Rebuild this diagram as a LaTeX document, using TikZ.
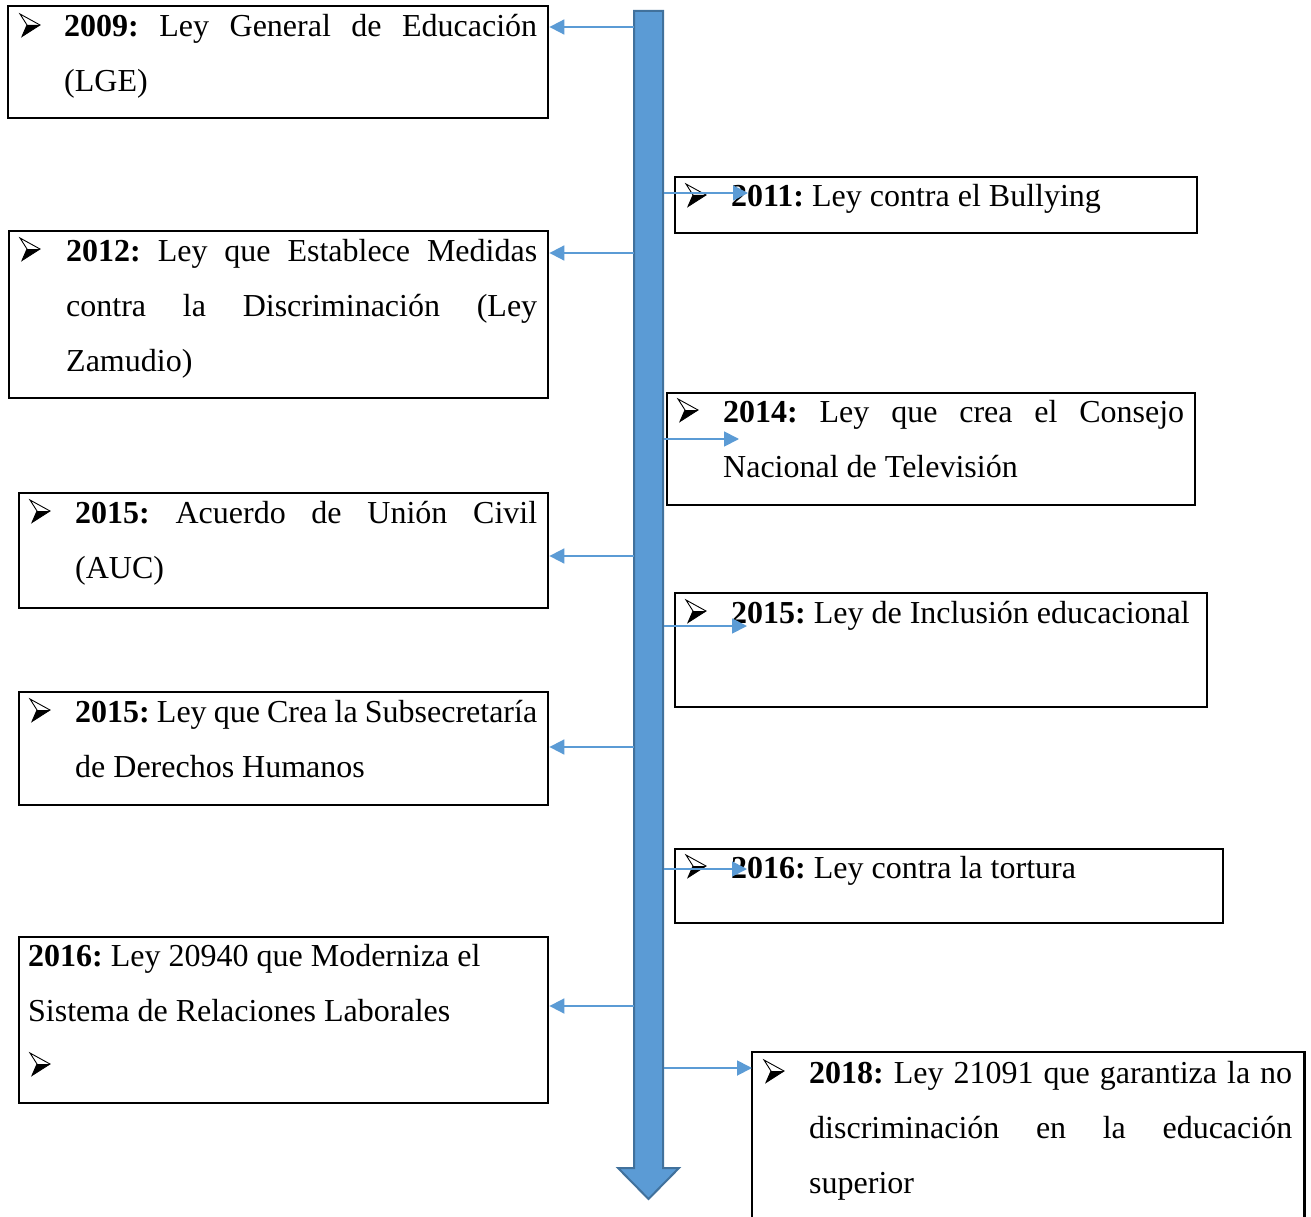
\documentclass[tikz,border=0pt]{standalone}
\usepackage{fontspec}
\setmainfont{Liberation Serif}
\usetikzlibrary{arrows.meta}
\definecolor{tlblue}{HTML}{5B9BD5}
\definecolor{tlborder}{HTML}{41719C}
\frenchspacing
\begin{document}
\begin{tikzpicture}[x=1pt,y=-1pt,
  lawbox/.style={draw=black,line width=2.4pt,anchor=north west,inner sep=0pt},
  txt/.style={anchor=base west,inner sep=0pt,font=\fontsize{32}{55}\selectfont\frenchspacing},
  conn/.style={draw=tlblue,line width=1.8pt,-{Triangle[length=15pt,width=15pt]}},
  bigarrow/.style={fill=tlblue,draw=tlborder,line width=2pt},
  bulletmark/.pic={
    \fill[black] (7,-12) -- (20,-12) -- (2,-0.5) -- cycle;
    \draw[black,line width=0.9pt,line join=miter] (0,-23) -- (20,-12) -- (2,-0.5) -- (7,-12) -- cycle;
  }
]
\useasboundingbox (0,0) rectangle (1311,1217);
\fill[white] (0,0) rectangle (1311,1217);

% timeline arrow
\path[bigarrow] (634,11) -- (663,11) -- (663,1168) -- (679,1168) -- (648.5,1199) -- (618,1168) -- (634,1168) -- cycle;

% boxes
\node[lawbox,minimum width=540pt,minimum height=112pt] (b2009) at (7,5) {};
\node[lawbox,minimum width=522pt,minimum height=56pt] (b2011) at (674,176) {};
\node[lawbox,minimum width=539pt,minimum height=167pt] (b2012) at (8,230) {};
\node[lawbox,minimum width=528pt,minimum height=112pt] (b2014) at (666,392) {};
\node[lawbox,minimum width=529pt,minimum height=115pt] (bauc) at (18,492) {};
\node[lawbox,minimum width=532pt,minimum height=114pt] (bincl) at (674,592) {};
\node[lawbox,minimum width=529pt,minimum height=113pt] (bsub) at (18,691) {};
\node[lawbox,minimum width=548pt,minimum height=74pt] (btort) at (674,848) {};
\node[lawbox,minimum width=529pt,minimum height=166pt] (blab) at (18,936) {};
\node[lawbox,draw=none,minimum width=550pt,minimum height=170pt] (b2018) at (752,1052) {};
\draw[black,line width=2.4pt] (b2018.south west) -- (b2018.north west) -- (b2018.north east) -- (b2018.south east);

% texts
\pic (u2009) at (20,37) {bulletmark};
\node[txt] (t2009a) at (64,37) {\makebox[473pt][s]{\textbf{2009:} Ley General de Educación}};
\node[txt] (t2009b) at (64,92) {(LGE)};

\pic (u2011) at (686,207) {bulletmark};
\node[txt] (t2011) at (731,207) {\textbf{2011:} Ley contra el Bullying};

\pic (u2012) at (20,261) {bulletmark};
\node[txt] (t2012a) at (66,261) {\makebox[471pt][s]{\textbf{2012:} Ley que Establece Medidas}};
\node[txt] (t2012b) at (66,316) {\makebox[471pt][s]{contra la Discriminación (Ley}};
\node[txt] (t2012c) at (66,371) {Zamudio)};

\pic (u2014) at (678,422) {bulletmark};
\node[txt] (t2014a) at (723,422) {\makebox[461pt][s]{\textbf{2014:} Ley que crea el Consejo}};
\node[txt] (t2014b) at (723,477) {Nacional de Televisión};

\pic (uauc) at (30,523) {bulletmark};
\node[txt] (tauca) at (75,523) {\makebox[462pt][s]{\textbf{2015:} Acuerdo de Unión Civil}};
\node[txt] (taucb) at (75,578) {(AUC)};

\pic (uincl) at (686,623) {bulletmark};
\node[txt] (tincl) at (731,623) {\textbf{2015:} Ley de Inclusión educacional};

\pic (usub) at (30,722) {bulletmark};
\node[txt] (tsuba) at (75,722) {\makebox[462pt][s]{\textbf{2015:} Ley que Crea la Subsecretaría}};
\node[txt] (tsubb) at (75,777) {de Derechos Humanos};

\pic (utort) at (686,878) {bulletmark};
\node[txt] (ttort) at (731,878) {\textbf{2016:} Ley contra la tortura};

\node[txt] (tlaba) at (28,966) {\textbf{2016:} Ley 20940 que Moderniza el};
\node[txt] (tlabb) at (28,1021) {Sistema de Relaciones Laborales};
\pic (ulab) at (30,1076) {bulletmark};

\pic (u2018) at (764,1083) {bulletmark};
\node[txt] (t2018a) at (809,1083) {\makebox[483pt][s]{\textbf{2018:} Ley 21091 que garantiza la no}};
\node[txt] (t2018b) at (809,1138) {\makebox[483pt][s]{discriminación en la educación}};
\node[txt] (t2018c) at (809,1193) {superior};

% connectors to the left
\coordinate (l2009) at (634,27);
\coordinate (l2012) at (634,253);
\coordinate (lauc) at (634,556);
\coordinate (lsub) at (634,747);
\coordinate (llab) at (634,1006);
\draw[conn] (l2009) -- (l2009 -| b2009.east);
\draw[conn] (l2012) -- (l2012 -| b2012.east);
\draw[conn] (lauc) -- (lauc -| bauc.east);
\draw[conn] (lsub) -- (lsub -| bsub.east);
\draw[conn] (llab) -- (llab -| blab.east);

% connectors to the right
\coordinate (r2011s) at (664,193); \coordinate (r2011e) at (748,193);
\coordinate (r2014s) at (664,439); \coordinate (r2014e) at (739,439);
\coordinate (rincls) at (664,626); \coordinate (rincle) at (747,626);
\coordinate (rtorts) at (664,869); \coordinate (rtorte) at (747,869);
\coordinate (r2018s) at (664,1068);
\draw[conn] (r2011s) -- (r2011e);
\draw[conn] (r2014s) -- (r2014e);
\draw[conn] (rincls) -- (rincle);
\draw[conn] (rtorts) -- (rtorte);
\draw[conn] (r2018s) -- (r2018s -| b2018.west);
\end{tikzpicture}
\end{document}
